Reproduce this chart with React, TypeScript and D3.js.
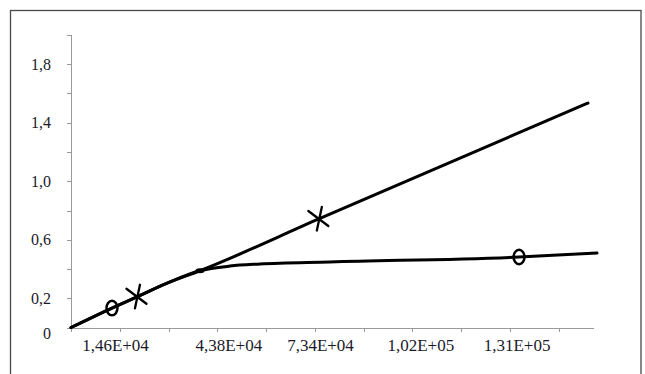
import React from "react";
import * as d3 from "d3";

// ---- data ----
const xStep = 14640;
const xTickCount = 10;
const xLabels = ["1,46E+04", "4,38E+04", "7,34E+04", "1,02E+05", "1,31E+05"];
const xLabelAt = [13360, 47370, 74900, 105000, 133900];
const yTicks = [0, 0.2, 0.4, 0.6, 0.8, 1.0, 1.2, 1.4, 1.6, 1.8, 2.0];
const yLabelValues = [0, 0.2, 0.6, 1.0, 1.4, 1.8];
const yLabelText = ["0", "0,2", "0,6", "1,0", "1,4", "1,8"];

const seriesAX = [0, 12300, 19800, 28700, 38700, 74400, 155200];
const seriesAY = [0, 0.133, 0.21, 0.302, 0.388, 0.742, 1.535];
const seriesAMarkers = [2, 5];

const seriesBX = [0, 12300, 19800, 28700, 38700, 47700, 56700, 77700, 134500, 157900];
const seriesBY = [0, 0.133, 0.21, 0.302, 0.388, 0.42, 0.434, 0.448, 0.482, 0.509];
const seriesBMarkers = [1, 8];

const W = 645;
const H = 374;

export default function App() {
  const x = d3.scaleLinear().domain([0, 157000]).range([71, 594]);
  const y = d3.scaleLinear().domain([0, 2]).range([327.5, 35]);
  const line = d3
    .line<[number, number]>()
    .x((d) => x(d[0]))
    .y((d) => y(d[1]))
    .curve(d3.curveMonotoneX);
  const aPts: [number, number][] = seriesAX.map((v, i) => [v, seriesAY[i]]);
  const bPts: [number, number][] = seriesBX.map((v, i) => [v, seriesBY[i]]);
  const xTicks = d3.range(0, xTickCount + 1).map((i) => i * xStep);
  const fontStyle = { fontFamily: '"Liberation Serif", "DejaVu Serif", serif' };

  return (
    <svg
      width={W}
      height={H}
      style={{ position: "absolute", left: 0, top: 0, background: "#fff" }}
    >
      <rect x={0} y={0} width={W} height={H} fill="#fff" />
      <rect x={10.5} y={10.5} width={630.5} height={380} fill="none" stroke="#4a4a4a" strokeWidth={1.3} />

      {/* y axis */}
      <line x1={71.5} x2={71.5} y1={y(2)} y2={y(0)} stroke="#999" strokeWidth={1} />
      {yTicks.map((t) => (
        <line key={"yt" + t} x1={67} x2={71.5} y1={Math.round(y(t)) + 0.5} y2={Math.round(y(t)) + 0.5} stroke="#999" />
      ))}
      {yLabelValues.map((v, i) => (
        <text
          key={"yl" + i}
          x={51}
          y={y(v) + (v === 0 ? 11 : 5.5)}
          textAnchor="end"
          style={fontStyle}
          fontSize={16}
          fill="#1a1a2a"
        >
          {yLabelText[i]}
        </text>
      ))}

      {/* x axis */}
      <line x1={71} x2={594} y1={328.5} y2={328.5} stroke="#999" strokeWidth={1} />
      {xTicks.map((t) => (
        <line key={"xt" + t} x1={Math.round(x(t)) + 0.5} x2={Math.round(x(t)) + 0.5} y1={328.5} y2={332} stroke="#999" />
      ))}
      {xLabels.map((l, i) => (
        <text
          key={"xl" + i}
          x={x(xLabelAt[i])}
          y={351}
          textAnchor="middle"
          style={fontStyle}
          fontSize={17}
          fill="#1a1a2a"
        >
          {l}
        </text>
      ))}

      {/* series */}
      <path d={line(bPts) || ""} fill="none" stroke="#000" strokeWidth={3} strokeLinejoin="round" strokeLinecap="round" />
      <path d={line(aPts) || ""} fill="none" stroke="#000" strokeWidth={3} strokeLinejoin="round" strokeLinecap="round" />
      <ellipse cx={x(38700)} cy={y(0.388)} rx={4.5} ry={2.5} fill="#000" />

      {seriesBMarkers.map((i) => (
        <ellipse
          key={"bm" + i}
          cx={x(seriesBX[i])}
          cy={y(seriesBY[i])}
          rx={5.5}
          ry={7.2}
          fill="none"
          stroke="#000"
          strokeWidth={2.5}
        />
      ))}
      {seriesAMarkers.map((i) => {
        const cx = x(seriesAX[i]);
        const cy = y(seriesAY[i]);
        return (
          <g key={"am" + i} transform={`translate(${cx},${cy})`} stroke="#000" strokeWidth={2.3} strokeLinecap="round">
            <line x1={-10.5} y1={-8} x2={9.5} y2={7} />
            <line x1={3} y1={-12} x2={-2} y2={11.5} />
          </g>
        );
      })}
    </svg>
  );
}
